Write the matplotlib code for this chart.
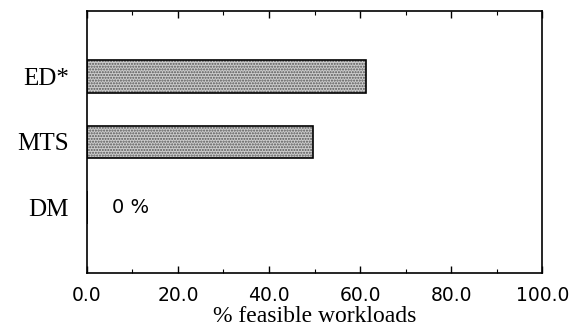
import matplotlib.pyplot as plt
from matplotlib.ticker import MultipleLocator

methods = ['DM', 'MTS', 'ED*']
feasible = [0.0, 49.7, 61.3]
xticks = [0, 20, 40, 60, 80, 100]

fig = plt.figure(figsize=(5.75, 3.29), dpi=100)
ax = fig.add_axes([0.151, 0.170, 0.792, 0.797])

ypos = list(range(len(methods)))
# dotted screen fill, then a black outline on top
ax.barh(ypos, feasible, height=0.5, color='#cdcdcd', edgecolor='#555555',
        hatch='......', linewidth=0)
ax.barh(ypos, feasible, height=0.5, color='none', edgecolor='black', linewidth=1.2)

for y, v in zip(ypos, feasible):
    if v == 0:
        ax.text(5.5, y, '0 %', va='center', ha='left', fontsize=14, family='DejaVu Sans')

ax.set_xlim(0, 100)
ax.set_ylim(-1, 3)
ax.set_xticks(xticks)
ax.set_xticklabels(['%.1f' % t for t in xticks], family='DejaVu Sans', fontsize=13.5)
ax.xaxis.set_minor_locator(MultipleLocator(10))
ax.tick_params(axis='x', which='both', direction='in', top=True, pad=9)
ax.tick_params(axis='x', which='major', length=5, width=1)
ax.tick_params(axis='x', which='minor', length=3, width=0.8)
ax.set_yticks(ypos)
ax.set_yticklabels(methods, family='Liberation Serif', fontsize=18)
ax.tick_params(axis='y', length=0, pad=13)
ax.set_xlabel('% feasible workloads', family='Liberation Serif', fontsize=17, labelpad=1)

for s in ax.spines.values():
    s.set_linewidth(1.2)

fig.savefig('out.png', dpi=100)
